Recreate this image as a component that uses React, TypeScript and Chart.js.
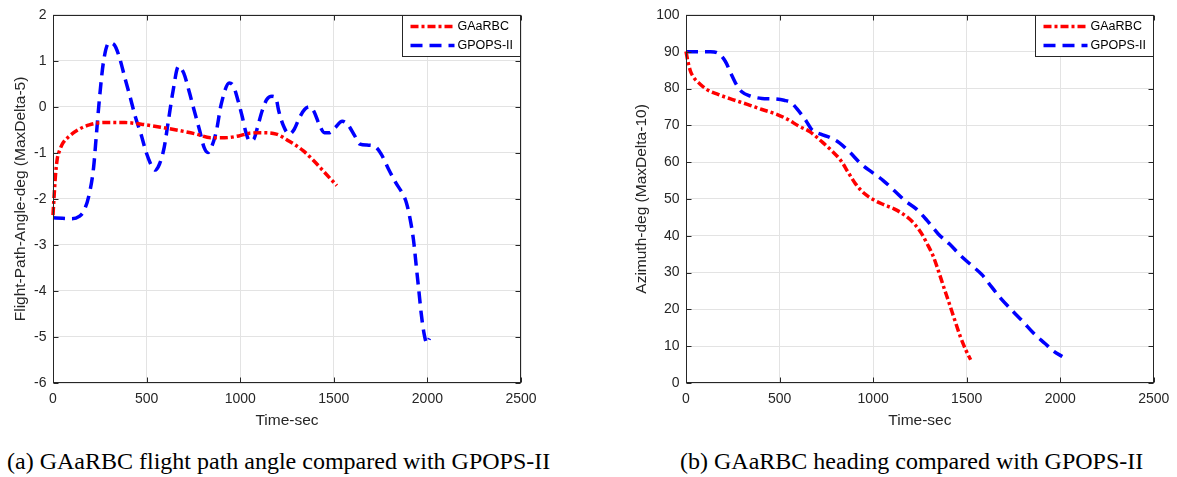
import React, { useEffect, useRef } from "react";
import { Chart, registerables } from "chart.js";

Chart.register(...registerables);

// ---------- data ----------
const timeTicks = [0, 500, 1000, 1500, 2000, 2500];
const fpaTicks = [-6, -5, -4, -3, -2, -1, 0, 1, 2];
const azTicks = [0, 10, 20, 30, 40, 50, 60, 70, 80, 90, 100];
const seriesNames = ["GAaRBC", "GPOPS-II"];

const fpaGaTime = [0, 5, 13, 23, 35, 51, 89, 137, 194, 270, 384, 479, 575, 670, 765, 841, 917, 993, 1050, 1126, 1193, 1260, 1336, 1393, 1450, 1516];
const fpaGaValue = [-2.35, -2.0, -1.5, -1.12, -0.95, -0.8, -0.63, -0.49, -0.39, -0.34, -0.34, -0.38, -0.44, -0.51, -0.59, -0.67, -0.67, -0.63, -0.57, -0.56, -0.59, -0.74, -0.95, -1.17, -1.42, -1.71];

const fpaGpTime = [0, 50, 99, 140, 166, 194, 217, 232, 247, 270, 299, 327, 356, 384, 413, 441, 470, 498, 527, 546, 569, 594, 616, 641, 670, 698, 727, 755, 784, 807, 828, 849, 873, 898, 942, 964, 989, 1012, 1031, 1050, 1073, 1092, 1117, 1142, 1170, 1190, 1206, 1231, 1260, 1288, 1317, 1345, 1370, 1393, 1422, 1450, 1478, 1507, 1545, 1574, 1612, 1640, 1678, 1716, 1754, 1792, 1830, 1868, 1887, 1906, 1926, 1941, 1954, 1967, 1982, 1998, 2011];
const fpaGpValue = [-2.41, -2.42, -2.43, -2.38, -2.25, -1.89, -1.31, -0.59, 0.13, 0.99, 1.39, 1.35, 1.06, 0.63, 0.2, -0.23, -0.59, -0.99, -1.28, -1.37, -1.24, -0.88, -0.31, 0.34, 0.88, 0.74, 0.34, -0.09, -0.52, -0.88, -0.99, -0.85, -0.52, 0.05, 0.52, 0.45, 0.13, -0.23, -0.56, -0.74, -0.7, -0.45, -0.09, 0.16, 0.23, 0.2, -0.09, -0.41, -0.59, -0.49, -0.23, -0.05, 0.0, -0.09, -0.38, -0.56, -0.56, -0.45, -0.31, -0.38, -0.63, -0.81, -0.83, -0.85, -1.03, -1.35, -1.64, -1.89, -2.07, -2.4, -2.9, -3.48, -3.98, -4.49, -4.92, -5.14, -5.03];

const azGaTime = [0, 10, 24, 43, 73, 112, 171, 249, 328, 406, 485, 544, 602, 661, 720, 779, 828, 867, 906, 955, 1005, 1054, 1112, 1171, 1221, 1260, 1289, 1319, 1348, 1377, 1407, 1436, 1466, 1495, 1521];
const azGaValue = [90.1, 87.4, 84.7, 82.9, 81.3, 79.7, 78.4, 77.0, 75.7, 74.3, 73.0, 71.6, 69.8, 68.3, 65.8, 63.1, 60.4, 57.2, 54.1, 51.4, 49.7, 48.5, 47.3, 45.5, 43.2, 40.5, 37.8, 34.7, 30.6, 26.1, 21.6, 17.1, 12.6, 9.0, 6.3];

const azGpTime = [0, 131, 171, 210, 239, 269, 298, 347, 406, 465, 524, 563, 602, 642, 671, 720, 769, 818, 877, 936, 995, 1054, 1112, 1171, 1230, 1289, 1348, 1407, 1466, 1525, 1584, 1633, 1682, 1741, 1800, 1858, 1917, 1966, 2011];
const azGpValue = [90, 90, 89.6, 87.4, 84.2, 81.1, 79.1, 77.9, 77.3, 77.2, 76.8, 76.1, 73.9, 71.2, 68.9, 67.6, 66.7, 65.3, 62.6, 59.5, 57.2, 55.0, 52.3, 49.5, 47.3, 44.1, 40.5, 37.8, 34.7, 32.0, 29.3, 26.1, 23.0, 19.8, 16.7, 13.5, 10.8, 8.6, 7.2];

// ---------- styling ----------
const SANS = "'Liberation Sans', Arial, sans-serif";
const AXIS = "#262626";
const GRID = "#e3e3e3";
const RED = "#ff0000";
const BLUE = "#0000ff";
const RED_DASH = [8, 3, 3, 3];
const BLUE_DASH = [12, 7];

const toPoints = (xs: number[], ys: number[]) => xs.map((x, i) => ({ x, y: ys[i] }));

const framePlugin = {
  id: "matlabFrame",
  afterDatasetsDraw(chart: any) {
    const { ctx, chartArea: a, scales } = chart;
    const L = Math.round(a.left) + 0.5;
    const R = Math.round(a.right) - 0.5;
    const T = Math.round(a.top) + 0.5;
    const B = Math.round(a.bottom) - 0.5;
    ctx.save();
    ctx.strokeStyle = AXIS;
    ctx.lineWidth = 1;
    ctx.setLineDash([]);
    ctx.strokeRect(L, T, R - L, B - T);
    const tl = 5;
    ctx.beginPath();
    scales.x.ticks.forEach((t: any) => {
      const px = Math.round(scales.x.getPixelForValue(t.value)) + 0.5;
      ctx.moveTo(px, B); ctx.lineTo(px, B - tl);
      ctx.moveTo(px, T); ctx.lineTo(px, T + tl);
    });
    scales.y.ticks.forEach((t: any) => {
      const py = Math.round(scales.y.getPixelForValue(t.value)) + 0.5;
      ctx.moveTo(L, py); ctx.lineTo(L + tl, py);
      ctx.moveTo(R, py); ctx.lineTo(R - tl, py);
    });
    ctx.stroke();

    // legend box in the top-right corner
    const lg = chart.options.plugins.boxLegend;
    const bw = lg.width, bh = lg.height;
    const bx = Math.round(a.right) - bw - 0.5;
    const by = T;
    ctx.fillStyle = "#ffffff";
    ctx.fillRect(bx, by, bw, bh);
    ctx.strokeStyle = AXIS;
    ctx.strokeRect(bx, by, bw, bh);
    chart.data.datasets.forEach((ds: any, i: number) => {
      const cy = by + 11 + i * 19;
      ctx.beginPath();
      ctx.strokeStyle = ds.borderColor;
      ctx.lineWidth = 3.5;
      ctx.setLineDash(ds.borderDash);
      ctx.moveTo(bx + 8, cy);
      ctx.lineTo(bx + 52, cy);
      ctx.stroke();
      ctx.setLineDash([]);
      ctx.fillStyle = "#000000";
      ctx.font = `12.5px ${SANS}`;
      ctx.textBaseline = "middle";
      ctx.textAlign = "left";
      ctx.fillText(ds.label, bx + 55, cy + 0.5);
    });
    ctx.restore();
  },
};

type PanelProps = {
  left: number;
  width: number;
  height: number;
  yTitle: string;
  yTicks: number[];
  yAxisWidth: number;
  yTitlePad: number;
  padRight: number;
  gaX: number[];
  gaY: number[];
  gpX: number[];
  gpY: number[];
};

function Panel(p: PanelProps) {
  const ref = useRef<HTMLCanvasElement | null>(null);
  useEffect(() => {
    if (!ref.current) return;
    const tickFont = { family: SANS, size: 14 };
    const titleFont = { family: SANS, size: 15.5 };
    const plain = (v: any) => String(v);
    const chart = new Chart(ref.current, {
      type: "line",
      data: {
        datasets: [
          {
            label: seriesNames[0],
            data: toPoints(p.gaX, p.gaY),
            borderColor: RED,
            borderWidth: 3.5,
            borderDash: RED_DASH,
            pointRadius: 0,
            cubicInterpolationMode: "monotone",
            fill: false,
            clip: false,
          },
          {
            label: seriesNames[1],
            data: toPoints(p.gpX, p.gpY),
            borderColor: BLUE,
            borderWidth: 3.5,
            borderDash: BLUE_DASH,
            pointRadius: 0,
            cubicInterpolationMode: "monotone",
            fill: false,
            clip: false,
          },
        ],
      },
      options: {
        responsive: false,
        animation: false,
        devicePixelRatio: 1,
        layout: { padding: { left: 0, top: 13, right: p.padRight, bottom: 0 } },
        plugins: {
          legend: { display: false },
          tooltip: { enabled: false },
          boxLegend: { width: 118, height: 41 },
        } as any,
        scales: {
          x: {
            type: "linear",
            min: timeTicks[0],
            max: timeTicks[timeTicks.length - 1],
            afterBuildTicks: (s: any) => { s.ticks = timeTicks.map((v) => ({ value: v })); },
            ticks: { font: tickFont, color: AXIS, padding: 7.6, maxRotation: 0, autoSkip: false, callback: plain },
            grid: { color: GRID, drawTicks: false, lineWidth: 1 },
            border: { display: false },
            title: { display: true, text: "Time-sec", font: titleFont, color: AXIS, padding: { top: 0, bottom: 9.7 } },
            afterFit: (s: any) => { s.height = p.height - 383; },
          },
          y: {
            type: "linear",
            min: p.yTicks[0],
            max: p.yTicks[p.yTicks.length - 1],
            afterBuildTicks: (s: any) => { s.ticks = p.yTicks.map((v) => ({ value: v })); },
            ticks: { font: tickFont, color: AXIS, padding: 6.5, autoSkip: false, callback: plain },
            grid: { color: GRID, drawTicks: false, lineWidth: 1 },
            border: { display: false },
            title: { display: true, text: p.yTitle, font: titleFont, color: AXIS, padding: { top: p.yTitlePad, bottom: 0 } },
            afterFit: (s: any) => { s.width = p.yAxisWidth; },
          },
        },
      } as any,
      plugins: [framePlugin],
    });
    return () => chart.destroy();
  }, []);
  return (
    <canvas
      ref={ref}
      width={p.width}
      height={p.height}
      style={{ position: "absolute", left: p.left, top: 0, width: p.width, height: p.height, display: "block" }}
    />
  );
}

const captionStyle: React.CSSProperties = {
  position: "absolute",
  top: 449,
  fontFamily: "'Liberation Serif', 'Times New Roman', serif",
  fontSize: 24,
  lineHeight: "24px",
  color: "#000",
  whiteSpace: "nowrap",
};

export default function App() {
  return (
    <div style={{ position: "absolute", left: 0, top: 0, width: 1177, height: 477, background: "#fff", overflow: "hidden" }}>
      <Panel
        left={0}
        width={560}
        height={440}
        yTitle="Flight-Path-Angle-deg (MaxDelta-5)"
        yTicks={fpaTicks}
        yAxisWidth={53}
        yTitlePad={11.7}
        padRight={39}
        gaX={fpaGaTime}
        gaY={fpaGaValue}
        gpX={fpaGpTime}
        gpY={fpaGpValue}
      />
      <Panel
        left={600}
        width={577}
        height={440}
        yTitle="Azimuth-deg (MaxDelta-10)"
        yTicks={azTicks}
        yAxisWidth={86}
        yTitlePad={32.7}
        padRight={22}
        gaX={azGaTime}
        gaY={azGaValue}
        gpX={azGpTime}
        gpY={azGpValue}
      />
      <div style={{ ...captionStyle, left: 7 }}>(a) GAaRBC flight path angle compared with GPOPS-II</div>
      <div style={{ ...captionStyle, left: 680 }}>(b) GAaRBC heading compared with GPOPS-II</div>
    </div>
  );
}
